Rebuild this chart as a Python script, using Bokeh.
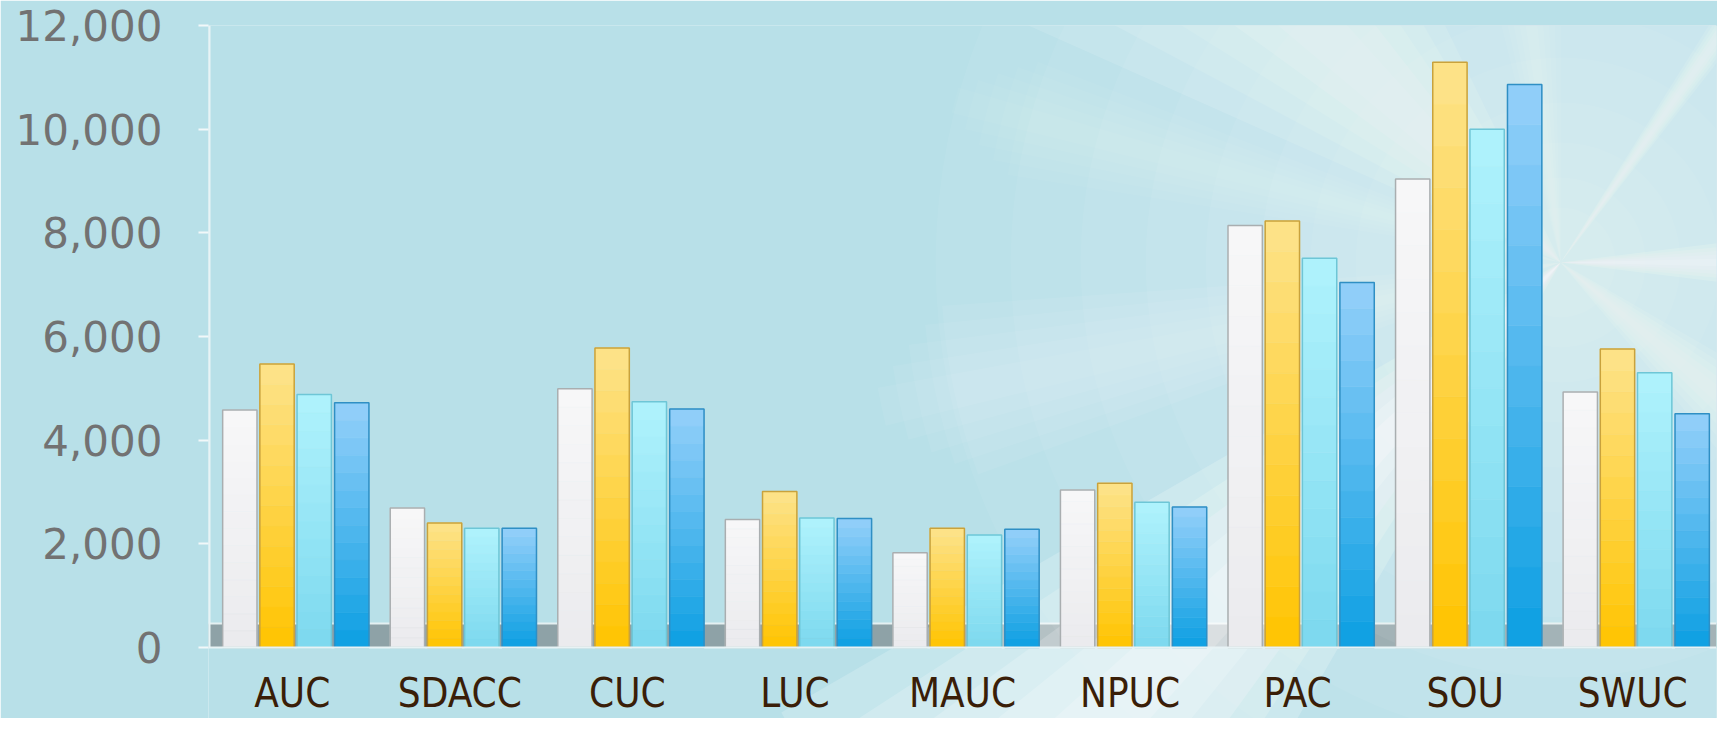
from bokeh.plotting import figure
from bokeh.models import (ColumnDataSource, FactorRange, Range1d, NumeralTickFormatter,
                          FixedTicker, BoxAnnotation, Span)
from bokeh.transform import dodge
from bokeh.core.properties import value
from bokeh.embed import file_html
from bokeh.resources import INLINE

# ---------------- data ----------------
categories = ["AUC", "SDACC", "CUC", "LUC", "MAUC", "NPUC", "PAC", "SOU", "SWUC"]
series_1 = [4580, 2690, 4990, 2470, 1830, 3040, 8140, 9040, 4930]
series_2 = [5470, 2400, 5780, 3010, 2300, 3170, 8230, 11290, 5760]
series_3 = [4880, 2300, 4740, 2500, 2170, 2800, 7510, 10000, 5300]
series_4 = [4720, 2300, 4600, 2490, 2280, 2710, 7040, 10860, 4510]
y_ticks = [0, 2000, 4000, 6000, 8000, 10000, 12000]

# ---------------- layout / style ----------------
BG = "#b8e0e8"
W, H = 1717, 718
LEFT, RIGHT, TOP = 208, 1, 25
ZERO_PX = 647            # pixel row of value 0
ymax = 12000
px_per_unit = (ZERO_PX - TOP) / ymax
ymin = -(H - ZERO_PX) / px_per_unit

src = ColumnDataSource(dict(cat=categories, s1=series_1, s2=series_2,
                            s3=series_3, s4=series_4))

p = figure(x_range=FactorRange(*categories), y_range=Range1d(ymin, ymax),
           width=W, height=H, output_backend="svg", toolbar_location=None,
           min_border_left=LEFT, min_border_right=RIGHT,
           min_border_top=TOP, min_border_bottom=0)
p.background_fill_color = BG
p.border_fill_color = BG
p.outline_line_color = None
p.grid.visible = False
p.xaxis.visible = False


def hexmix(c1, c2, t):
    a = [int(c1[i:i + 2], 16) for i in (1, 3, 5)]
    b = [int(c2[i:i + 2], 16) for i in (1, 3, 5)]
    return "#%02x%02x%02x" % tuple(round(a[k] + (b[k] - a[k]) * t) for k in range(3))


# ---- soft light burst in the background (decoration only) ----
LIGHT_X, LIGHT_DX = "SWUC", -0.43
light_y = (ZERO_PX - 262) / px_per_unit
# (centre angle, half width, strength, length in px)
rays = [(136, 20, 0.55, 900), (97, 7, 0.25, 700), (192, 8, 0.30, 620),
        (225, 15, 0.95, 900), (0, 7, 0.75, 700), (55, 3, 0.55, 700),
        (-40, 10, 0.45, 700), (165, 6, 0.20, 560)]
for frac in (1.0, 0.8, 0.6, 0.4, 0.2):
    rsrc = ColumnDataSource(dict(
        x=[LIGHT_X] * len(rays),
        start=[c - hw * frac for c, hw, s, L in rays],
        end=[c + hw * frac for c, hw, s, L in rays],
        alpha=[s / 5 for c, hw, s, L in rays],
        r=[L * (1.15 - 0.15 * frac) for c, hw, s, L in rays],
    ))
    p.wedge(x=dodge("x", LIGHT_DX, range=p.x_range), y=light_y, radius="r",
            radius_units="screen", start_angle="start", end_angle="end",
            start_angle_units="deg", end_angle_units="deg", source=rsrc,
            fill_color="white", fill_alpha="alpha", line_color=None)
glow_src = ColumnDataSource(dict(x=[LIGHT_X]))
for d in (1250, 1100, 960, 830, 710, 600, 500, 410, 320, 240, 170, 110):
    p.scatter(x=dodge("x", LIGHT_DX, range=p.x_range), y=light_y, size=d,
              source=glow_src, marker="circle",
              fill_color="white", fill_alpha=0.055, line_color=None)

# floor of the 3-D look
floor_units = 24 / px_per_unit
p.add_layout(BoxAnnotation(bottom=0, top=floor_units, fill_color="#8ea2a7",
                           fill_alpha=1.0, line_color=None, level="underlay"))
p.add_layout(Span(location=floor_units, dimension="width", line_color="#e4f0f2",
                  line_width=2, level="underlay"))
p.add_layout(Span(location=0, dimension="width", line_color="#e8f3f5",
                  line_width=2))

offsets = [-0.313, -0.091, 0.131, 0.355]
bw = 0.205
top_cols = ["#f7f7f8", "#fde38c", "#b0f3fc", "#95d0fa"]
bot_cols = ["#ebebee", "#ffc400", "#7cd8ef", "#0c9fe2"]
lines = ["#a9aeb0", "#c9a23c", "#6ec6d6", "#2f8fc4"]
N = 14
series_cols = ["s1", "s2", "s3", "s4"]
for col, off, tc, bc, lc in zip(series_cols, offsets, top_cols, bot_cols, lines):
    vals = src.data[col]
    for i in range(N):
        seg = ColumnDataSource(dict(cat=categories,
                                    b=[v * i / N for v in vals],
                                    t=[v * (i + 1) / N for v in vals]))
        colr = hexmix(bc, tc, (i + 0.5) / N)
        p.vbar(x=dodge("cat", off, range=p.x_range), top="t", bottom="b", width=bw,
               source=seg, fill_color=colr, line_color=colr, line_width=0.6)
    p.vbar(x=dodge("cat", off, range=p.x_range), top=col, bottom=0, width=bw,
           source=src, fill_color=None, line_color=lc, line_width=1.5)

# y axis
p.yaxis.ticker = FixedTicker(ticks=y_ticks)
p.yaxis.formatter = NumeralTickFormatter(format="0,0")
p.yaxis.major_label_text_font = "DejaVu Sans"
p.yaxis.major_label_text_font_size = "42px"
p.yaxis.major_label_text_color = "#727272"
p.yaxis.major_label_standoff = 36
p.yaxis.axis_line_color = None
p.yaxis.major_tick_line_color = "#f2f8f9"
p.yaxis.major_tick_line_width = 2
p.yaxis.major_tick_out = 10
p.yaxis.major_tick_in = 0
p.yaxis.minor_tick_line_color = None

# y axis line from 0 to the top only
axis_src = ColumnDataSource(dict(x=["AUC"], y0=[0], y1=[ymax]))
p.segment(x0=dodge("x", -0.497, range=p.x_range), y0="y0",
          x1=dodge("x", -0.497, range=p.x_range), y1="y1", source=axis_src,
          line_color="#e8f3f5", line_width=3)

# category labels under the floor
label_y = -(692 - ZERO_PX) / px_per_unit
p.text(x=dodge("cat", 0.0, range=p.x_range), y=label_y, text="cat", source=src,
       text_font=value("DejaVu Sans Condensed"), text_font_size="40px",
       text_color="#3a1e08", text_align="center", text_baseline="middle")

open("out.html", "w").write(file_html(p, INLINE))
